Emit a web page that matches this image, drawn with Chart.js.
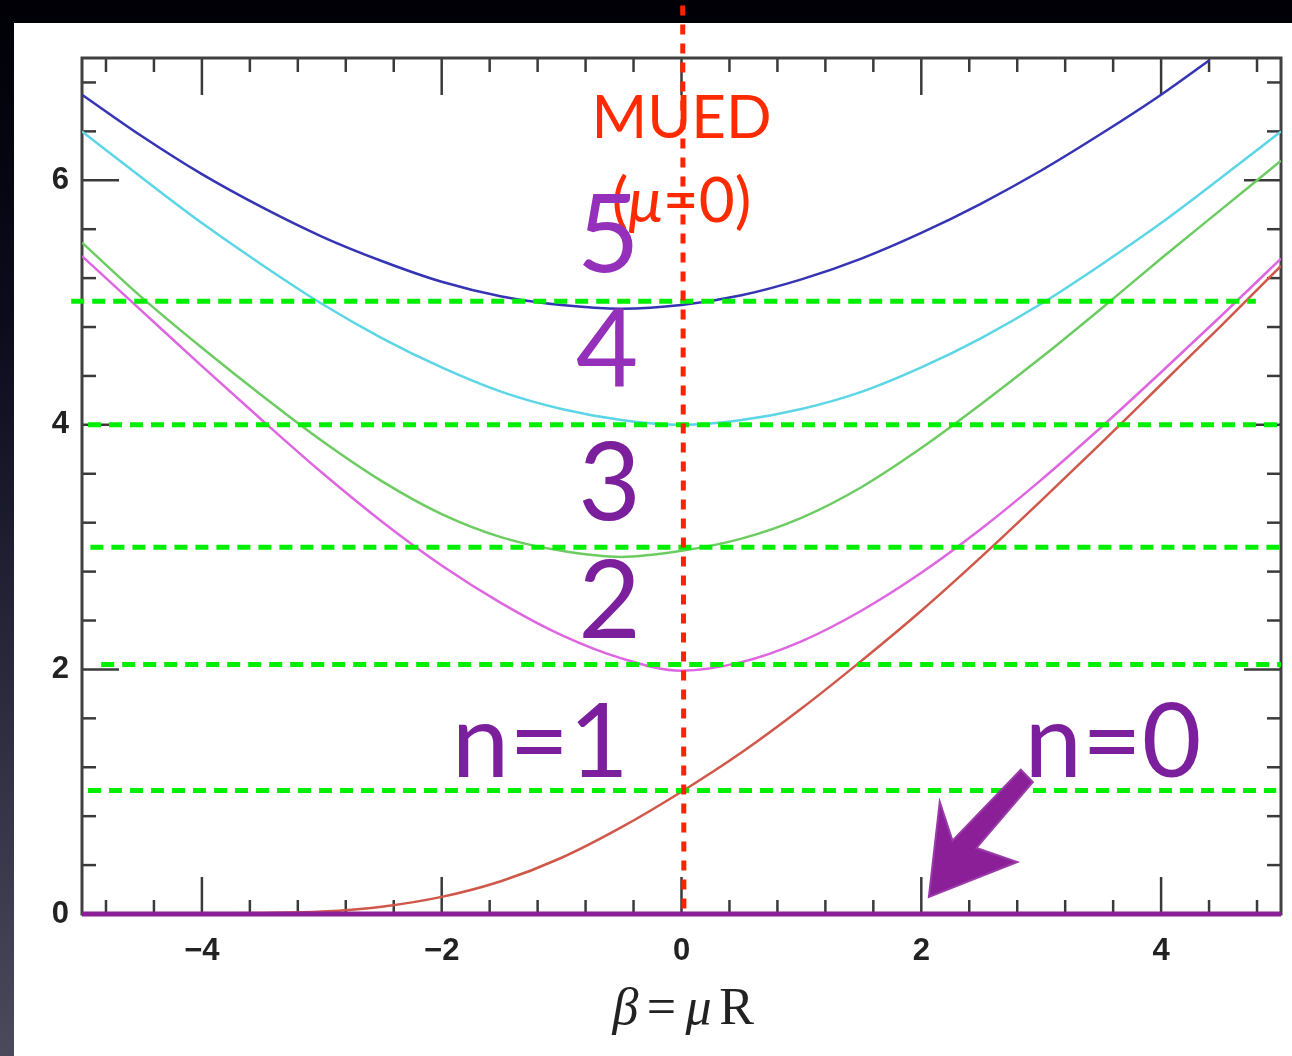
<!DOCTYPE html>
<html>
<head>
<meta charset="utf-8">
<script src="https://cdn.jsdelivr.net/npm/chart.js@4.4.1/dist/chart.umd.min.js"></script>
<style>
  html, body { margin: 0; padding: 0; width: 1292px; height: 1056px; overflow: hidden; }
  body { background: linear-gradient(to bottom, #000006 0%, #0b0b1c 30%, #2a293e 65%, #4b4a5c 100%); }
  #panel { position: absolute; left: 14px; top: 23px; width: 1278px; height: 1033px; background: #fff; }
  #chart { position: absolute; left: 0; top: 0; }
</style>
</head>
<body>
<div id="panel"></div>
<canvas id="chart" width="1292" height="1056"></canvas>
<script>
// beta = mu*R sample points
const betaValues = [-5, -4.5, -4, -3.5, -3, -2.5, -2, -1.5, -1, -0.5, 0, 0.5, 1, 1.5, 2, 2.5, 3, 3.5, 4, 4.5, 5];
const betaN5 = [-5, -4.5, -4, -3.5, -3, -2.5, -2, -1.5, -1, -0.5, 0, 0.5, 1, 1.5, 2, 2.5, 3, 3.5, 4, 4.4];

// KK masses (units of 1/R)
const massN0 = [0, 0, 0, 0, 0, 0, 0, 0, 0, 0, 0, 0, 0, 0, 0, 0, 0, 0, 0, 0, 0];
const massN1 = [0, 0.001, 0.003, 0.008, 0.02, 0.06, 0.14, 0.27, 0.46, 0.71, 1.0, 1.32, 1.68, 2.07, 2.48, 2.92, 3.38, 3.85, 4.33, 4.81, 5.3];
const massN2 = [5.38, 4.93, 4.48, 4.04, 3.61, 3.21, 2.85, 2.54, 2.28, 2.09, 1.99, 2.06, 2.23, 2.48, 2.79, 3.15, 3.55, 3.98, 4.43, 4.89, 5.36];
const massN3 = [5.49, 5.04, 4.63, 4.24, 3.87, 3.54, 3.27, 3.08, 2.97, 2.92, 2.97, 3.07, 3.24, 3.49, 3.81, 4.17, 4.55, 4.95, 5.36, 5.76, 6.16];
const massN4 = [6.4, 6.02, 5.65, 5.31, 4.99, 4.71, 4.47, 4.27, 4.13, 4.04, 4.0, 4.04, 4.13, 4.27, 4.47, 4.71, 4.99, 5.31, 5.65, 6.02, 6.4];
const massN5 = [6.7, 6.36, 6.05, 5.78, 5.54, 5.34, 5.17, 5.05, 4.98, 4.95, 4.98, 5.06, 5.19, 5.36, 5.57, 5.81, 6.08, 6.38, 6.7, 6.98];

// green dashed guide levels (mu = 0 spectrum) and their drawn extent
const guideLevels = [1.01, 2.04, 3.0, 4.0, 5.01];
const guideFrom = [-4.95, -4.84, -4.93, -4.95, -5.09];
const guideTo = [4.96, 5.0, 5.0, 5.0, 4.79];

// axis ticks
const xTickValues = [-4, -2, 0, 2, 4];
const xTickLabels = ['\u22124', '\u22122', '0', '2', '4'];
const yTickValues = [0, 2, 4, 6];
const yTickLabels = ['0', '2', '4', '6'];

const pairs = (xs, ys) => xs.map((v, i) => ({ x: v, y: ys[i] }));

const curve = (label, xs, ys, color) => ({
  label, data: pairs(xs, ys), borderColor: color, borderWidth: 2.5,
  pointRadius: 0, cubicInterpolationMode: 'monotone', fill: false
});

const datasets = [];
// MUED line
datasets.push({
  label: 'MUED', data: [{ x: 0.01, y: 7.43 }, { x: 0.02, y: 0.03 }],
  borderColor: '#ff2200', borderWidth: 5, borderDash: [10, 9], pointRadius: 0, clip: false
});
guideLevels.forEach((lv, i) => {
  datasets.push({
    label: 'level ' + (i + 1), data: [{ x: guideFrom[i], y: lv }, { x: guideTo[i], y: lv }],
    borderColor: '#00ee00', borderWidth: 5, borderDash: [13, 8], pointRadius: 0, clip: false
  });
});
datasets.push({
  label: 'n=0', data: pairs(betaValues, massN0), borderColor: '#8a1f98', borderWidth: 5,
  pointRadius: 0, clip: false
});
datasets.push(curve('n=1', betaValues, massN1, '#d0584a'));
datasets.push(curve('n=2', betaValues, massN2, '#de66e0'));
datasets.push(curve('n=3', betaValues, massN3, '#6ccc62'));
datasets.push(curve('n=4', betaValues, massN4, '#5cd6e6'));
datasets.push(curve('n=5', betaN5, massN5, '#3434b4'));

// inward tick marks and frame
const frameTicks = {
  id: 'frameTicks',
  beforeDatasetsDraw(chart) {
    const { ctx, chartArea: a, scales: { x, y } } = chart;
    ctx.save();
    ctx.strokeStyle = '#3a3a3a';
    ctx.lineWidth = 2.5;
    const seg = (x1, y1, x2, y2) => { ctx.beginPath(); ctx.moveTo(x1, y1); ctx.lineTo(x2, y2); ctx.stroke(); };
    for (let i = -12; i <= 12; i++) {
      const px = x.getPixelForValue(i * 0.4);
      const len = i % 5 === 0 ? 37 : 14;
      seg(px, a.bottom, px, a.bottom - len);
      seg(px, a.top, px, a.top + len);
    }
    for (let i = 1; i <= 17; i++) {
      const py = y.getPixelForValue(i * 0.4);
      const len = i % 5 === 0 ? 37 : 14;
      seg(a.left, py, a.left + len, py);
      seg(a.right, py, a.right - len, py);
    }
    ctx.lineWidth = 3;
    ctx.strokeStyle = '#404040';
    ctx.strokeRect(a.left, a.top, a.right - a.left, a.bottom - a.top);
    ctx.restore();
  }
};

// text labels, arrow and axis title
const annotations = {
  id: 'annotations',
  afterDatasetsDraw(chart) {
    const { ctx, scales: { x, y } } = chart;
    const X = v => x.getPixelForValue(v);
    const Y = v => y.getPixelForValue(v);
    ctx.save();

    // hand drawn arrow pointing at the n=0 mode
    const arrow = [[2.063, 0.139], [2.154, 0.916], [2.26, 0.6], [2.83, 1.18], [2.93, 1.08], [2.46, 0.54], [2.8, 0.425]];
    ctx.beginPath();
    arrow.forEach(([ax, ay], i) => i ? ctx.lineTo(X(ax), Y(ay)) : ctx.moveTo(X(ax), Y(ay)));
    ctx.closePath();
    ctx.fillStyle = '#8a1f98';
    ctx.fill();
    ctx.lineWidth = 2;
    ctx.strokeStyle = '#9a3aa8';
    ctx.stroke();

    ctx.textBaseline = 'alphabetic';
    ctx.fillStyle = '#ff2a00';
    ctx.textAlign = 'center';
    ctx.font = '60px Lato';
    ctx.fillText('MUED', X(0), Y(6.345));

    // (mu=0) with italic mu
    const parts = [['(', '62px Lato'], ['\u03bc', 'italic 62px Lato'], ['=0)', '62px Lato']];
    let total = 0;
    parts.forEach(([t, f]) => { ctx.font = f; total += ctx.measureText(t).width; });
    let cx = X(0) - total / 2;
    ctx.textAlign = 'left';
    parts.forEach(([t, f]) => { ctx.font = f; ctx.fillText(t, cx, Y(5.66)); cx += ctx.measureText(t).width; });

    ctx.textAlign = 'center';
    ctx.font = '108px Lato';
    ctx.fillStyle = '#9530bb';
    ctx.fillText('5', X(-0.61), Y(5.25));
    ctx.fillText('4', X(-0.62), Y(4.31));
    ctx.fillStyle = '#7c1f9d';
    ctx.fillText('3', X(-0.6), Y(3.22));
    ctx.fillText('2', X(-0.6), Y(2.26));
    ctx.font = '103px Lato';
    ctx.textAlign = 'right';
    ctx.fillText('n=1', X(-0.44), Y(1.12));
    ctx.textAlign = 'left';
    ctx.fillText('n=0', X(2.86), Y(1.12));

    // axis title beta = mu R
    ctx.fillStyle = '#222';
    ctx.textAlign = 'center';
    const c = X(0);
    const base = 1024;
    ctx.font = 'italic 52px "Liberation Serif"';
    ctx.fillText('\u03b2', c - 56, base);
    ctx.fillText('\u03bc', c + 17, base);
    ctx.font = '52px "Liberation Serif"';
    ctx.fillText('=', c - 20, base);
    ctx.fillText('R', c + 55, base);
    ctx.restore();
  }
};

new Chart(document.getElementById('chart'), {
  type: 'line',
  data: { datasets },
  options: {
    responsive: false,
    devicePixelRatio: 1,
    animation: false,
    layout: { padding: { top: 58, right: 11, left: 0, bottom: 0 } },
    plugins: { legend: { display: false }, tooltip: { enabled: false } },
    scales: {
      x: {
        type: 'linear', min: -5, max: 5,
        grid: { display: false, drawTicks: false },
        border: { display: false },
        afterFit: s => { s.height = 142; },
        afterBuildTicks: s => { s.ticks = xTickValues.map(v => ({ value: v })); },
        ticks: {
          padding: 19, color: '#222', maxRotation: 0,
          font: { family: 'Liberation Sans', size: 31, weight: 'bold' },
          callback: v => xTickLabels[xTickValues.indexOf(v)]
        }
      },
      y: {
        type: 'linear', min: 0, max: 7,
        grid: { display: false, drawTicks: false },
        border: { display: false },
        afterFit: s => { s.width = 82; },
        afterBuildTicks: s => { s.ticks = yTickValues.map(v => ({ value: v })); },
        ticks: {
          padding: 13, color: '#222',
          font: { family: 'Liberation Sans', size: 31, weight: 'bold' },
          callback: v => yTickLabels[yTickValues.indexOf(v)]
        }
      }
    }
  },
  plugins: [frameTicks, annotations]
});
</script>
</body>
</html>
